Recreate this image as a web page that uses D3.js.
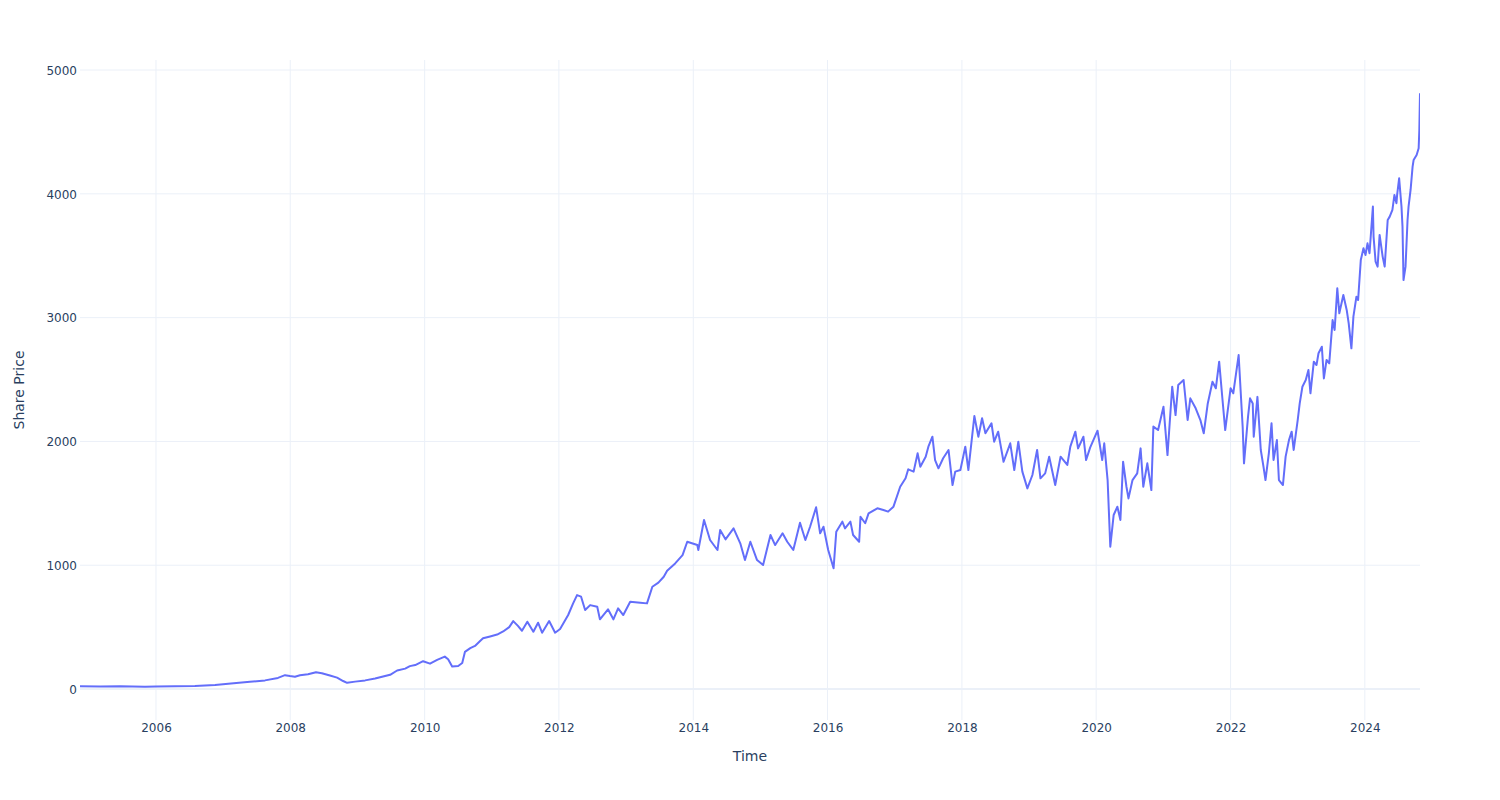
<!DOCTYPE html>
<html>
<head>
<meta charset="utf-8">
<script src="https://cdn.jsdelivr.net/npm/d3@7"></script>
<style>
  html, body { margin: 0; padding: 0; background: #fff; }
  svg text { font-family: "DejaVu Sans", Verdana, sans-serif; fill: #2a3f5f; }
</style>
</head>
<body>
<svg id="chart" width="1500" height="800"></svg>
<script>
// Time as decimal years, share price values
const years = [
  2004.868, 2005.166, 2005.464, 2005.836, 2006.0, 2006.283, 2006.58, 2006.88, 2007.117, 2007.40,
  2007.624, 2007.817, 2007.922, 2007.996, 2008.07, 2008.145, 2008.264, 2008.383, 2008.47, 2008.59,
  2008.696, 2008.786, 2008.845, 2008.964, 2009.113, 2009.262, 2009.411, 2009.486, 2009.59, 2009.71,
  2009.78, 2009.86, 2009.977, 2010.08, 2010.186, 2010.30, 2010.35, 2010.41, 2010.50, 2010.56,
  2010.60, 2010.68, 2010.75, 2010.83, 2010.87, 2010.975, 2011.08, 2011.17, 2011.26, 2011.32,
  2011.39, 2011.45, 2011.53, 2011.62, 2011.69, 2011.75, 2011.855, 2011.944, 2012.018, 2012.138,
  2012.21, 2012.27, 2012.33, 2012.39, 2012.465, 2012.57, 2012.61, 2012.73, 2012.81, 2012.88,
  2012.957, 2013.06, 2013.21, 2013.31, 2013.39, 2013.48, 2013.56, 2013.61, 2013.73, 2013.84,
  2013.91, 2014.06, 2014.075, 2014.16, 2014.25, 2014.36, 2014.40, 2014.48, 2014.60, 2014.70,
  2014.77, 2014.85, 2014.95, 2015.04, 2015.15, 2015.22, 2015.33, 2015.40, 2015.49, 2015.59,
  2015.67, 2015.74, 2015.83, 2015.89, 2015.94, 2016.01, 2016.09, 2016.13, 2016.22, 2016.26,
  2016.34, 2016.38, 2016.47, 2016.49, 2016.56, 2016.61, 2016.74, 2016.83, 2016.90, 2016.98,
  2017.08, 2017.16, 2017.20, 2017.28, 2017.34, 2017.38, 2017.46, 2017.50, 2017.56, 2017.60,
  2017.65, 2017.72, 2017.80, 2017.86, 2017.90, 2017.977, 2018.05, 2018.096, 2018.185, 2018.245,
  2018.30, 2018.35, 2018.44, 2018.48, 2018.54, 2018.62, 2018.72, 2018.78, 2018.84, 2018.90,
  2018.975, 2019.05, 2019.12, 2019.17, 2019.24, 2019.30, 2019.39, 2019.47, 2019.57, 2019.615,
  2019.69, 2019.73, 2019.81, 2019.85, 2019.91, 2020.02, 2020.09, 2020.12, 2020.17, 2020.21,
  2020.26, 2020.315, 2020.36, 2020.40, 2020.45, 2020.48, 2020.54, 2020.61, 2020.66, 2020.70,
  2020.76, 2020.82, 2020.85, 2020.92, 2021.0, 2021.06, 2021.13, 2021.18, 2021.22, 2021.30,
  2021.36, 2021.40, 2021.48, 2021.55, 2021.60, 2021.66, 2021.73, 2021.78, 2021.83, 2021.88,
  2021.92, 2022.0, 2022.04, 2022.12, 2022.18, 2022.20, 2022.26, 2022.29, 2022.33, 2022.345,
  2022.40, 2022.45, 2022.49, 2022.52, 2022.57, 2022.61, 2022.64, 2022.69, 2022.72, 2022.78,
  2022.82, 2022.87, 2022.91, 2022.94, 2023.0, 2023.03, 2023.07, 2023.12, 2023.16, 2023.19,
  2023.24, 2023.28, 2023.31, 2023.36, 2023.39, 2023.43, 2023.47, 2023.52, 2023.55, 2023.59,
  2023.62, 2023.68, 2023.73, 2023.76, 2023.80, 2023.83, 2023.875, 2023.90, 2023.94, 2023.98,
  2024.01, 2024.04, 2024.07, 2024.12, 2024.13, 2024.16, 2024.19, 2024.22, 2024.265, 2024.295,
  2024.34, 2024.37, 2024.41, 2024.44, 2024.47, 2024.48, 2024.51, 2024.545, 2024.56, 2024.575,
  2024.605, 2024.635, 2024.65, 2024.68, 2024.71, 2024.725, 2024.77, 2024.80, 2024.81, 2024.82
];
const prices = [
  22, 21, 22, 18, 20, 22, 25, 32, 45, 58,
  70, 90, 112, 105, 100, 112, 120, 135, 128, 110,
  92, 65, 50, 60, 70, 85, 105, 115, 150, 165,
  185, 194, 225, 205, 235, 262, 240, 182, 186, 210,
  300, 330, 348, 390, 410, 425, 440, 465, 500, 549,
  510, 471, 544, 463, 536, 455, 549, 455, 485, 598,
  690, 759, 746, 638, 678, 665, 563, 644, 563, 652,
  598, 705, 697, 692, 826, 859, 907, 956, 1015, 1082,
  1190, 1163, 1123, 1365, 1204, 1123, 1284, 1209, 1298, 1177,
  1042, 1190, 1042, 1002, 1244, 1163, 1258, 1190, 1123, 1343,
  1204, 1311, 1468, 1258, 1311, 1123, 975, 1271, 1352, 1298,
  1352, 1244, 1190, 1392, 1339, 1419, 1460, 1446, 1433, 1473,
  1634, 1702, 1775, 1756, 1904, 1796, 1877, 1958, 2038, 1850,
  1783, 1864, 1931, 1648, 1756, 1769, 1958, 1769, 2205, 2038,
  2187, 2066, 2147, 1998, 2079, 1836, 1985, 1769, 1998, 1756,
  1621, 1729, 1931, 1702, 1742, 1877, 1648, 1877, 1810, 1958,
  2079, 1944, 2038, 1850, 1950, 2087, 1850, 1985, 1688, 1150,
  1406, 1473, 1365, 1836, 1634, 1540, 1688, 1742, 1944, 1634,
  1823, 1607, 2120, 2092, 2281, 1890, 2442, 2213, 2456, 2496,
  2173, 2348, 2268, 2173, 2066, 2307, 2482, 2429, 2644, 2335,
  2092, 2429, 2389, 2698, 2119, 1823, 2200, 2348, 2307, 2038,
  2360, 1931, 1796, 1688, 1904, 2147, 1850, 2011, 1688, 1648,
  1877, 2011, 2079, 1931, 2173, 2307, 2442, 2496, 2577, 2389,
  2644, 2617, 2712, 2765, 2509, 2658, 2631, 2980, 2900, 3237,
  3035, 3183, 3062, 2954, 2752, 3008, 3169, 3142, 3465, 3560,
  3506, 3600, 3520, 3897, 3655, 3453, 3412, 3668, 3493, 3412,
  3789, 3816, 3870, 3991, 3924, 3991, 4125, 3897, 3735, 3304,
  3412, 3789, 3897, 4031, 4220, 4273, 4314, 4368, 4516, 4812
];
const xTickYears = [2006, 2008, 2010, 2012, 2014, 2016, 2018, 2020, 2022, 2024];
const yTicks = [0, 1000, 2000, 3000, 4000, 5000];
const xTitle = "Time";
const yTitle = "Share Price";

function toDate(y) {
  const Y = Math.floor(y);
  const s = Date.UTC(Y, 0, 1), e = Date.UTC(Y + 1, 0, 1);
  return new Date(s + (y - Y) * (e - s));
}
const data = years.map((y, i) => ({ date: toDate(y), value: prices[i] }));

const W = 1500, H = 800;
const m = { l: 80, r: 80, t: 60, b: 80 };
const svg = d3.select("#chart");

const x = d3.scaleUtc()
  .domain(d3.extent(data, d => d.date))
  .range([m.l, W - m.r]);
const y = d3.scaleLinear()
  .domain([-250, 5081])
  .range([H - m.b, m.t]);

const grid = "#EBF0F8";

// vertical gridlines
const xTicks = xTickYears.map(v => new Date(Date.UTC(v, 0, 1)));
svg.append("g").selectAll("line").data(xTicks).join("line")
  .attr("x1", d => x(d)).attr("x2", d => x(d))
  .attr("y1", m.t).attr("y2", H - m.b)
  .attr("stroke", grid).attr("stroke-width", 1);

// horizontal gridlines
svg.append("g").selectAll("line").data(yTicks).join("line")
  .attr("x1", m.l).attr("x2", W - m.r)
  .attr("y1", d => y(d)).attr("y2", d => y(d))
  .attr("stroke", grid).attr("stroke-width", d => d === 0 ? 2 : 1);

// x axis labels
const xAxis = d3.axisBottom(x).tickValues(xTicks).tickFormat(d3.utcFormat("%Y")).tickSize(0).tickPadding(0);
const gx = svg.append("g").attr("transform", `translate(0,${H - m.b})`).call(xAxis);
gx.select(".domain").remove();
gx.selectAll("text").attr("y", 3).attr("dy", "0.71em").style("font-size", "12px")
  .style("font-family", '"DejaVu Sans", Verdana, sans-serif').attr("fill", "#2a3f5f");

// y axis labels
const yAxis = d3.axisLeft(y).tickValues(yTicks).tickFormat(d3.format("d")).tickSize(0).tickPadding(0);
const gy = svg.append("g").attr("transform", `translate(${m.l},0)`).call(yAxis);
gy.select(".domain").remove();
gy.selectAll("text").attr("x", -3).attr("dy", "0.35em").style("font-size", "12px")
  .style("font-family", '"DejaVu Sans", Verdana, sans-serif').attr("fill", "#2a3f5f");

// clip
svg.append("clipPath").attr("id", "clip").append("rect")
  .attr("x", m.l).attr("y", m.t).attr("width", W - m.l - m.r).attr("height", H - m.t - m.b);

// line
const line = d3.line().x(d => x(d.date)).y(d => y(d.value));
svg.append("path").datum(data)
  .attr("clip-path", "url(#clip)")
  .attr("fill", "none").attr("stroke", "#636efa").attr("stroke-width", 2)
  .attr("stroke-linejoin", "round")
  .attr("d", line);

// axis titles
svg.append("text").attr("x", (m.l + W - m.r) / 2).attr("y", 761)
  .attr("text-anchor", "middle").style("font-size", "14px").text(xTitle);
svg.append("text").attr("transform", `translate(24,${(m.t + H - m.b) / 2}) rotate(-90)`)
  .attr("text-anchor", "middle").style("font-size", "14px").text(yTitle);
</script>
</body>
</html>
